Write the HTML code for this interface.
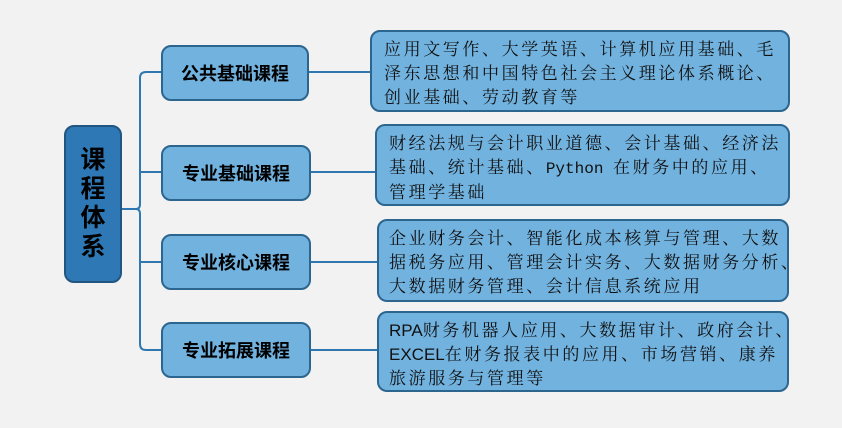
<!DOCTYPE html>
<html><head><meta charset="utf-8"><style>
body{margin:0;width:842px;height:428px;background:#f2f2f2;position:relative;overflow:hidden;font-family:"Liberation Sans","Noto Sans CJK SC",sans-serif}
.b{position:absolute;box-sizing:border-box;background:#71b2df;border:2px solid #2c668f;border-radius:10px}
.root{left:64px;top:125px;width:58px;height:158px;background:#2e79b5;border-color:#22557f;display:flex;align-items:center;justify-content:center;font-weight:bold;font-size:25px;line-height:29px;text-align:center;color:#000}
.m{left:161px;width:150px;height:56px;display:flex;align-items:center;justify-content:center;font-weight:bold;font-size:18px;color:#000}
.r{padding:6px 0 0 12px;font-family:"Liberation Serif","Noto Serif CJK SC",serif;font-size:17px;line-height:24px;letter-spacing:2.6px;color:#111;white-space:nowrap}
.l{font-family:"Liberation Mono",monospace;letter-spacing:0;font-size:16px}
.s{font-family:"Liberation Sans",sans-serif;letter-spacing:0;font-size:17px}
</style></head><body>
<svg width="842" height="428" style="position:absolute;left:0;top:0">
<g stroke="#2f77b0" stroke-width="2" fill="none">
<path d="M122 209 H136 Q140 209 140 204 V78 Q140 72 146 72 H161"/>
<path d="M122 209 H136 Q140 209 140 214 V344 Q140 350 146 350 H161"/>
<path d="M140 172 H161 M140 262 H161"/>
<path d="M309 72 H370 M311 172 H375 M311 262 H377 M311 350 H377"/>
</g></svg>
<div class="b root">课<br>程<br>体<br>系</div>
<div class="b m" style="top:45px;width:148px">公共基础课程</div>
<div class="b m" style="top:145px">专业基础课程</div>
<div class="b m" style="top:234px">专业核心课程</div>
<div class="b m" style="top:322px">专业拓展课程</div>
<div class="b r" style="left:370px;top:30px;width:420px;height:82px">应用文写作、大学英语、计算机应用基础、毛<br>泽东思想和中国特色社会主义理论体系概论、<br>创业基础、劳动教育等</div>
<div class="b r" style="left:375px;top:124px;width:415px;height:82px">财经法规与会计职业道德、会计基础、经济法<br>基础、统计基础、<span class="l">Python </span>在财务中的应用、<br>管理学基础</div>
<div class="b r" style="left:377px;top:219px;width:412px;height:83px;padding-left:10px">企业财务会计、智能化成本核算与管理、大数<br>据税务应用、管理会计实务、大数据财务分析、<br>大数据财务管理、会计信息系统应用</div>
<div class="b r" style="left:377px;top:311px;width:412px;height:81px;padding-left:10px"><span class="s">RPA</span>财务机器人应用、大数据审计、政府会计、<br><span class="s">EXCEL</span>在财务报表中的应用、市场营销、康养<br>旅游服务与管理等</div>
</body></html>
